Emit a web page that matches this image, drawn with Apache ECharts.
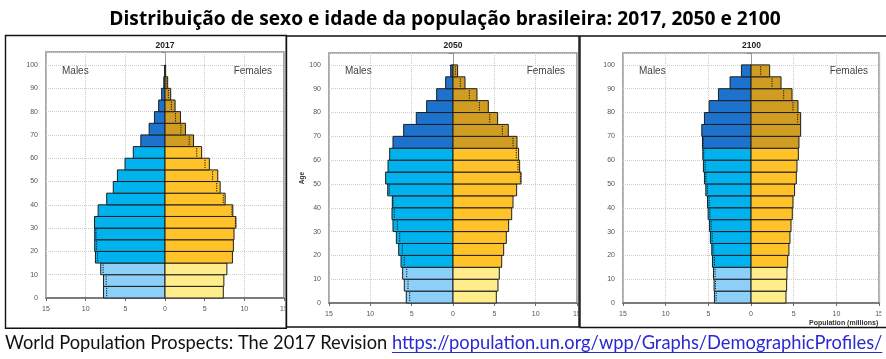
<!DOCTYPE html>
<html><head><meta charset="utf-8">
<script src="https://cdn.jsdelivr.net/npm/echarts@6/dist/echarts.min.js"></script>
<style>html,body{margin:0;padding:0;background:#fff}#c{width:886px;height:359px}</style>
</head><body><div id="c"></div>
<script>
// ---- data ----
const ageStarts = [0,5,10,15,20,25,30,35,40,45,50,55,60,65,70,75,80,85,90,95];
const years = ['2017','2050','2100'];
const males2017   = [7.75,7.75,8.10,8.77,8.86,8.86,8.88,8.43,7.35,6.52,6.00,5.04,4.00,3.05,2.00,1.33,0.80,0.42,0.15,0.03];
const females2017 = [7.35,7.42,7.80,8.50,8.62,8.70,8.94,8.55,7.58,6.95,6.65,5.59,4.62,3.60,2.58,1.95,1.27,0.72,0.34,0.08];
const males2050   = [5.65,5.89,6.09,6.29,6.57,6.85,7.26,7.38,7.34,7.90,8.15,7.86,7.66,7.26,5.97,4.44,3.19,1.98,0.89,0.28];
const females2050 = [5.24,5.44,5.60,5.89,6.13,6.45,6.73,7.10,7.26,7.70,8.23,8.06,7.94,7.74,6.69,5.40,4.27,2.90,1.45,0.56];
const males2100   = [4.29,4.33,4.40,4.52,4.60,4.76,4.87,5.03,5.10,5.30,5.46,5.58,5.65,5.69,5.77,5.46,4.91,3.82,2.46,1.13];
const females2100 = [4.09,4.17,4.21,4.29,4.44,4.56,4.68,4.83,4.91,5.10,5.30,5.38,5.54,5.61,5.81,5.81,5.50,4.80,3.51,2.18];
const xTickValues = [-15,-10,-5,0,5,10,15];
const sexLabels = ['Males','Females'];
const yAxisName = 'Age';
const xAxisName = 'Population (millions)';
const titleText = 'Distribuição de sexo e idade da população brasileira: 2017, 2050 e 2100';
const sourceText = 'World Population Prospects: The 2017 Revision';
const linkText = 'https://population.un.org/wpp/Graphs/DemographicProfiles/';

const maleSeries = [males2017, males2050, males2100];
const femaleSeries = [females2017, females2050, females2100];

// ---- styles / layout ----
const maleColors = ['#8ccff8', '#00b2ee', '#1c72cc'];
const femaleColors = ['#ffec8a', '#ffc228', '#d09d22'];
const panels = [
  {left:46,  top:52, width:238, height:246, max:105.6, box:[5.5,35.5,280.8,292.8]},
  {left:329, top:53, width:248, height:250, max:105,   box:[286.5,36,292.5,291]},
  {left:623, top:53, width:257, height:250, max:105,   box:[580,36,312,291.5]}
];
const labelFont = '"Liberation Sans", Arial, sans-serif';

function groupOf(age){ return age < 15 ? 0 : (age < 65 ? 1 : 2); }

function renderItem(params, api){
  const age = api.value(0), m = api.value(1), f = api.value(2);
  const g = groupOf(age);
  const a = api.coord([-m, age + 5]), b = api.coord([0, age]);
  const c = api.coord([0, age + 5]), d = api.coord([f, age]);
  const children = [
    {type:'rect', shape:{x:a[0], y:a[1], width:b[0]-a[0], height:b[1]-a[1]},
     style:{fill:maleColors[g], stroke:'#1e1e1e', lineWidth:1}},
    {type:'rect', shape:{x:c[0], y:c[1], width:d[0]-c[0], height:d[1]-c[1]},
     style:{fill:femaleColors[g], stroke:'#1e1e1e', lineWidth:1}}
  ];
  if (f < m - 0.05) {
    const p = api.coord([-f, age]);
    children.push({type:'line', shape:{x1:p[0], y1:a[1]+1.5, x2:p[0], y2:b[1]-1.5},
      style:{stroke:'#111', lineWidth:1, lineDash:[1.2,1.2]}});
  }
  if (m < f - 0.05) {
    const p = api.coord([m, age]);
    children.push({type:'line', shape:{x1:p[0], y1:c[1]+1.5, x2:p[0], y2:d[1]-1.5},
      style:{stroke:'#111', lineWidth:1, lineDash:[1.2,1.2]}});
  }
  return {type:'group', children};
}

const grids = [], xAxes = [], yAxes = [], series = [];
panels.forEach((p, i) => {
  grids.push({left:p.left, top:p.top, width:p.width, height:p.height, show:true,
    borderColor:'#a8a8a8', borderWidth:2, backgroundColor:'#fff', containLabel:false});
  xAxes.push({type:'value', gridIndex:i, min:xTickValues[0], max:xTickValues[xTickValues.length-1], interval:5,
    axisLine:{show:true, onZero:false, lineStyle:{color:'#6a6a6a', width:1.5}},
    axisTick:{show:true, length:3, lineStyle:{color:'#6a6a6a'}},
    axisLabel:{fontSize:7, color:'#555', margin:8, fontFamily:labelFont, formatter:v => String(Math.abs(v))},
    splitLine:{show:true, lineStyle:{type:'dotted', color:'#cccccc'}}});
  yAxes.push({type:'value', gridIndex:i, min:0, max:p.max, interval:10,
    axisLine:{show:true, lineStyle:{color:'#9a9a9a', width:1}},
    axisTick:{show:true, length:4, lineStyle:{color:'#8a8a8a'}},
    axisLabel:{fontSize:7, color:'#555', margin:8, fontFamily:labelFont, formatter:v => (v % 10 === 0 ? String(v) : '')},
    splitLine:{show:true, lineStyle:{type:'dotted', color:'#cccccc'}}});
  const data = ageStarts.map((a, k) => [a, maleSeries[i][k], femaleSeries[i][k]]);
  series.push({type:'custom', xAxisIndex:i, yAxisIndex:i, renderItem, data,
    encode:{x:[1,2], y:0}, clip:false, silent:true, z:5});
});

// text measurement for the footer link underline
const ctx = document.createElement('canvas').getContext('2d');
const footFont = '18.3px Lato';
ctx.font = footFont;

const graphics = [];
graphics.push({type:'text', x:445, y:20, z:200, style:{text:titleText, font:'bold 19.2px "Open Sans"', fill:'#000', align:'center', verticalAlign:'middle'}});
panels.forEach((p, i) => {
  const cx = p.left + p.width/2;
  graphics.push({type:'text', x:cx, y:45.5, z:200, style:{text:years[i], font:'bold 8.5px ' + labelFont, fill:'#222', align:'center', verticalAlign:'middle'}});
  graphics.push({type:'text', x:p.left + 16, y:71, z:200, style:{text:sexLabels[0], font:'10px ' + labelFont, fill:'#444', align:'left', verticalAlign:'middle'}});
  graphics.push({type:'text', x:p.left + p.width - 12, y:71, z:200, style:{text:sexLabels[1], font:'10px ' + labelFont, fill:'#444', align:'right', verticalAlign:'middle'}});
});
graphics.push({type:'text', x:302, y:178, rotation:Math.PI/2, z:200, style:{text:yAxisName, font:'bold 6.5px ' + labelFont, fill:'#333', align:'center', verticalAlign:'middle'}});
graphics.push({type:'text', x:809, y:323.5, z:200, style:{text:xAxisName, font:'bold 7px ' + labelFont, fill:'#333', align:'left', verticalAlign:'middle'}});
// white covers clipping the right-hand "15" labels at panel edges
graphics.push({type:'rect', z:150, shape:{x:285.2, y:303, width:5, height:12}, style:{fill:'#fff'}});
graphics.push({type:'rect', z:150, shape:{x:578.4, y:308, width:6, height:12}, style:{fill:'#fff'}});
graphics.push({type:'rect', z:150, shape:{x:881.3, y:308, width:6, height:11.5}, style:{fill:'#fff'}});
// panel boxes
panels.forEach(p => {
  graphics.push({type:'rect', z:160, shape:{x:p.box[0], y:p.box[1], width:p.box[2], height:p.box[3]},
    style:{fill:null, stroke:'#111', lineWidth:1.4}});
});
// footer
const srcW = ctx.measureText(sourceText + ' ').width;
const linkX = 5 + srcW;
const linkW = ctx.measureText(linkText).width;
graphics.push({type:'text', x:5, y:343, z:200, style:{text:sourceText, font:footFont, fill:'#111', align:'left', verticalAlign:'middle'}});
graphics.push({type:'text', x:linkX, y:343, z:200, style:{text:linkText, font:footFont, fill:'#2a2ad0', align:'left', verticalAlign:'middle'}});
graphics.push({type:'line', z:200, shape:{x1:linkX, y1:352.5, x2:linkX + linkW, y2:352.5}, style:{stroke:'#2a2ad0', lineWidth:1}});

const chart = echarts.init(document.getElementById('c'), null, {renderer:'canvas'});
chart.setOption({
  animation:false,
  backgroundColor:'#fff',
  grid:grids, xAxis:xAxes, yAxis:yAxes, series,
  graphic:{elements:graphics}
});
</script></body></html>
